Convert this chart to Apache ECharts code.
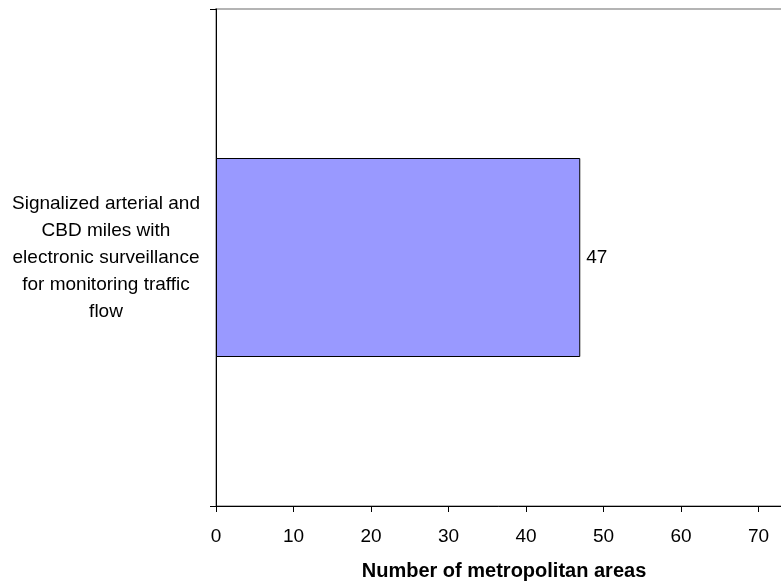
<!DOCTYPE html>
<html>
<head>
<meta charset="utf-8">
<script src="https://cdn.jsdelivr.net/npm/echarts@6/dist/echarts.min.js"></script>
<style>
  html, body { margin: 0; padding: 0; background: #fff; }
  #chart { width: 781px; height: 582px; }
</style>
</head>
<body>
<div id="chart"></div>
<script>
var categories = ["Signalized arterial and\nCBD miles with\nelectronic surveillance\nfor monitoring traffic\nflow"];
var areaCounts = [47];
var xTicks = { min: 0, max: 80, interval: 10 };

var chart = echarts.init(document.getElementById("chart"));
chart.setOption({
  animation: false,
  textStyle: { fontFamily: "Liberation Sans, Arial, sans-serif" },
  grid: {
    left: 216,
    top: 9,
    right: -55, // plot area runs past the right edge, 80 is cut off
    bottom: 76,
    outerBoundsMode: "none",
    containLabel: false,
    show: true,
    borderColor: "#b4b4b4",
    borderWidth: 2,
    backgroundColor: "#fff"
  },
  xAxis: {
    type: "value",
    min: xTicks.min,
    max: xTicks.max,
    interval: xTicks.interval,
    splitLine: { show: false },
    axisLine: { show: true, lineStyle: { color: "#000", width: 1 } },
    axisTick: { show: true, length: 6, lineStyle: { color: "#000" } },
    axisLabel: { color: "#000", fontSize: 19, margin: 21 },
    name: "Number of metropolitan areas",
    nameLocation: "middle",
    nameGap: 55,
    nameTextStyle: { color: "#000", fontSize: 20, fontWeight: "bold", padding: [0, 44, 0, 0] }
  },
  yAxis: {
    type: "category",
    data: categories,
    inverse: true,
    axisLine: { show: true, lineStyle: { color: "#000", width: 1 } },
    axisTick: { show: true, length: 6, lineStyle: { color: "#000" } },
    axisLabel: { color: "#000", fontSize: 19, lineHeight: 27, align: "center", margin: 110 }
  },
  series: [
    {
      type: "bar",
      data: areaCounts,
      barWidth: 199,
      itemStyle: { color: "#9999ff", borderColor: "#000", borderWidth: 1 },
      label: { show: true, position: "right", distance: 6, color: "#000", fontSize: 19 }
    }
  ]
});
</script>
</body>
</html>
